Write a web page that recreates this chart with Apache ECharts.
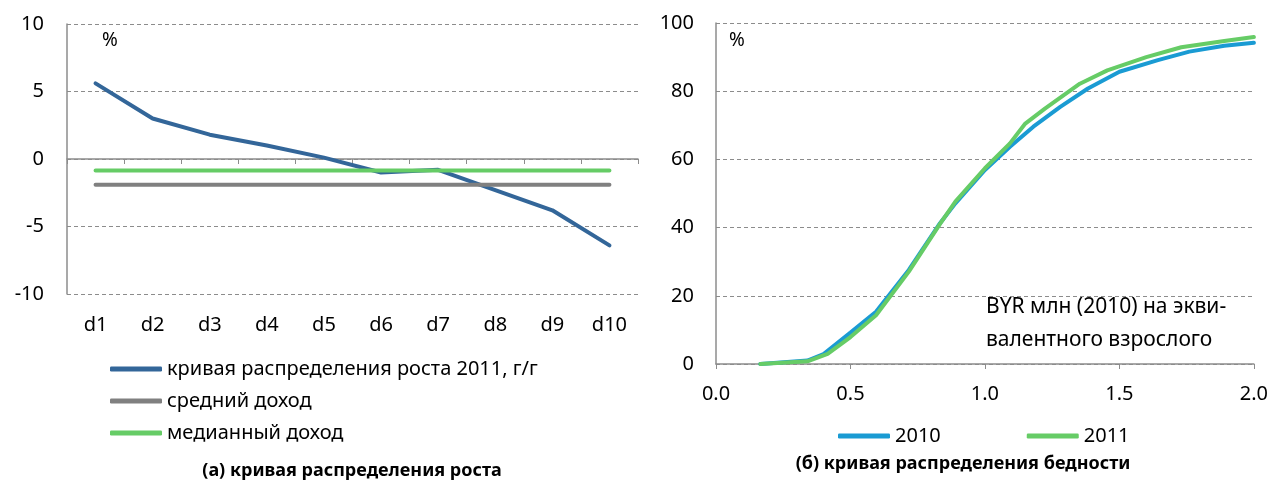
<!DOCTYPE html>
<html>
<head>
<meta charset="utf-8">
<script src="https://cdn.jsdelivr.net/npm/echarts@6/dist/echarts.min.js"></script>
<style>
  html, body { margin: 0; padding: 0; background: #fff; }
  #chart { width: 1271px; height: 482px; }
</style>
</head>
<body>
<div id="chart"></div>
<script>
// (a) growth incidence curve by decile
const deciles = ['d1', 'd2', 'd3', 'd4', 'd5', 'd6', 'd7', 'd8', 'd9', 'd10']
const growth2011 = [5.6, 3.0, 1.8, 1.0, 0.1, -1.0, -0.8, -2.3, -3.8, -6.4]
const meanIncome = [-1.9, -1.9, -1.9, -1.9, -1.9, -1.9, -1.9, -1.9, -1.9, -1.9]
const medianIncome = [-0.85, -0.85, -0.85, -0.85, -0.85, -0.85, -0.85, -0.85, -0.85, -0.85]

// (б) poverty incidence curve, x = BYR mln (2010) per adult equivalent
const income2010 = [0.165, 0.34, 0.40, 0.50, 0.595, 0.717, 0.833, 0.89, 1.0, 1.093, 1.18, 1.28, 1.383, 1.5, 1.643, 1.76, 1.89, 2.0]
const share2010 = [0, 1.0, 2.9, 9.2, 15.3, 27.6, 41.3, 47.1, 56.9, 63.7, 69.6, 75.4, 80.8, 85.7, 89.1, 91.6, 93.3, 94.2]
const income2011 = [0.165, 0.34, 0.415, 0.50, 0.595, 0.717, 0.833, 0.89, 1.0, 1.093, 1.15, 1.223, 1.353, 1.455, 1.6, 1.73, 1.89, 2.0]
const share2011 = [0, 0.8, 3.0, 7.9, 14.3, 27.1, 41.1, 47.6, 57.4, 64.7, 70.5, 74.9, 82.2, 86.1, 90.0, 92.9, 94.7, 95.9]

const font = '"Noto Sans", sans-serif'
const axisGray = '#8c8c8c'
const dashed = { show: true, lineStyle: { color: '#8c8c8c', type: [4, 3], width: 1 } }
const labelStyle = { color: '#000', fontSize: 20, fontFamily: font }

const pairs = (xs, ys) => xs.map((x, i) => [x, ys[i]])

const chart = echarts.init(document.getElementById('chart'))
chart.setOption({
  animation: false,
  textStyle: { fontFamily: font },
  grid: [
    { left: 67, top: 24, width: 571, height: 270 },
    { left: 716, top: 23, width: 539, height: 341 }
  ],
  xAxis: [
    {
      gridIndex: 0, type: 'category', data: deciles,
      axisLine: { onZero: true, lineStyle: { color: axisGray, width: 1.5 } },
      axisTick: { show: true, length: 5, lineStyle: { color: axisGray } },
      axisLabel: { show: false },
      splitLine: { show: false }
    },
    {
      gridIndex: 0, type: 'category', data: deciles, position: 'bottom',
      axisLine: { show: false, onZero: false },
      axisTick: { show: false },
      axisLabel: Object.assign({ margin: 21 }, labelStyle),
      splitLine: { show: false }
    },
    {
      gridIndex: 1, type: 'value', min: 0, max: 2, interval: 0.5,
      axisLine: { lineStyle: { color: axisGray, width: 1.5 } },
      axisTick: { show: true, length: 5, lineStyle: { color: axisGray } },
      axisLabel: Object.assign({ margin: 20, formatter: v => v.toFixed(1) }, labelStyle),
      splitLine: { show: false }
    }
  ],
  yAxis: [
    {
      gridIndex: 0, type: 'value', min: -10, max: 10, interval: 5,
      axisLine: { show: true, lineStyle: { color: axisGray, width: 1.5 } },
      axisTick: { show: false },
      axisLabel: Object.assign({ margin: 23 }, labelStyle),
      splitLine: dashed
    },
    {
      gridIndex: 1, type: 'value', min: 0, max: 100, interval: 20,
      axisLine: { show: true, lineStyle: { color: axisGray, width: 1.5 } },
      axisTick: { show: false },
      axisLabel: Object.assign({ margin: 22 }, labelStyle),
      splitLine: dashed
    }
  ],
  legend: [
    {
      data: ['кривая распределения роста 2011, г/г', 'средний доход', 'медианный доход'],
      orient: 'vertical', left: 105, top: 354, itemGap: 12,
      itemWidth: 52, itemHeight: 5, icon: 'roundRect',
      textStyle: labelStyle
    },
    {
      data: ['2010', '2011'],
      orient: 'horizontal', left: 833, top: 421, itemGap: 86,
      itemWidth: 52, itemHeight: 5, icon: 'roundRect',
      textStyle: labelStyle
    }
  ],
  series: [
    {
      name: 'кривая распределения роста 2011, г/г', type: 'line',
      xAxisIndex: 0, yAxisIndex: 0, data: growth2011,
      showSymbol: false, lineStyle: { color: '#336699', width: 4, cap: 'round' }, itemStyle: { color: '#336699' }
    },
    {
      name: 'средний доход', type: 'line',
      xAxisIndex: 0, yAxisIndex: 0, data: meanIncome,
      showSymbol: false, lineStyle: { color: '#808080', width: 4, cap: 'round' }, itemStyle: { color: '#808080' }
    },
    {
      name: 'медианный доход', type: 'line',
      xAxisIndex: 0, yAxisIndex: 0, data: medianIncome,
      showSymbol: false, lineStyle: { color: '#66cc66', width: 4, cap: 'round' }, itemStyle: { color: '#66cc66' }
    },
    {
      name: '2010', type: 'line',
      xAxisIndex: 2, yAxisIndex: 1, data: pairs(income2010, share2010),
      showSymbol: false, lineStyle: { color: '#1a9bd3', width: 4, cap: 'round' }, itemStyle: { color: '#1a9bd3' }
    },
    {
      name: '2011', type: 'line',
      xAxisIndex: 2, yAxisIndex: 1, data: pairs(income2011, share2011),
      showSymbol: false, lineStyle: { color: '#66cc66', width: 4, cap: 'round' }, itemStyle: { color: '#66cc66' }
    }
  ],
  graphic: [
    { type: 'text', left: 102, top: 31, style: { text: '%', font: '19px ' + font, fill: '#000' } },
    { type: 'text', left: 729, top: 31, style: { text: '%', font: '19px ' + font, fill: '#000' } },
    { type: 'text', left: 986, top: 297, style: { text: 'BYR млн (2010) на экви-', font: '21px ' + font, fill: '#000' } },
    { type: 'text', left: 986, top: 330, style: { text: 'валентного взрослого', font: '21px ' + font, fill: '#000' } },
    { type: 'text', x: 352, y: 471, style: { text: '(а) кривая распределения роста', font: 'bold 18px ' + font, fill: '#000', align: 'center', verticalAlign: 'middle' } },
    { type: 'text', x: 963, y: 464, style: { text: '(б) кривая распределения бедности', font: 'bold 18px ' + font, fill: '#000', align: 'center', verticalAlign: 'middle' } }
  ]
})
</script>
</body>
</html>
